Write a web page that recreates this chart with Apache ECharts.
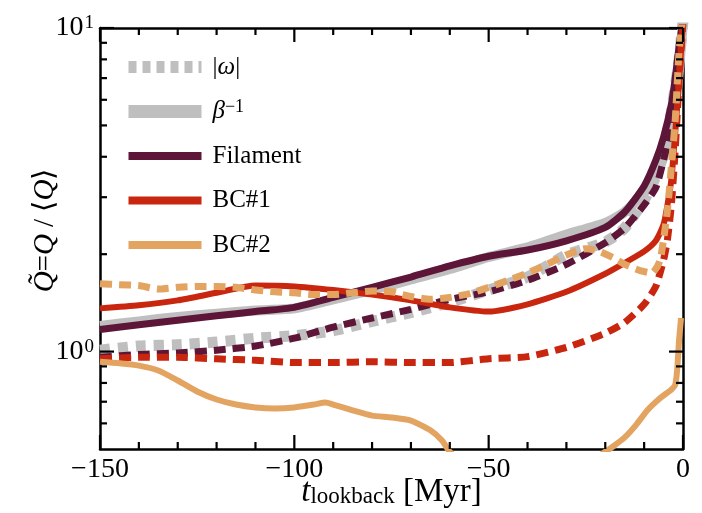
<!DOCTYPE html>
<html>
<head>
<meta charset="utf-8">
<script src="https://cdn.jsdelivr.net/npm/echarts@6/dist/echarts.min.js"></script>
<style>
  html, body { margin: 0; padding: 0; background: #fff; }
  #chart { width: 702px; height: 513px; }
</style>
</head>
<body>
<div id="chart"></div>
<script>
// lookback time (Myr) and Q / <Q>
const tOmega = [-150, -140, -130, -120, -110, -100, -90, -80, -70, -60, -50, -40, -30, -20, -15, -10, -7, -5, -3, -1, 0];
const omegaAll = [1.01, 1.04, 1.05, 1.07, 1.10, 1.12, 1.16, 1.24, 1.32, 1.42, 1.55, 1.70, 1.99, 2.18, 2.41, 2.94, 3.47, 4.2, 5.5, 8.0, 10.5];

const tBeta = [-150, -140, -130, -120, -110, -100, -90, -80, -70, -60, -50, -40, -30, -20, -15, -10, -7, -5, -3, -2, -1, 0];
const betaAll = [1.20, 1.24, 1.28, 1.31, 1.34, 1.36, 1.45, 1.55, 1.67, 1.80, 1.96, 2.10, 2.30, 2.50, 2.70, 3.10, 3.50, 4.0, 4.9, 5.8, 7.5, 10.5];

const tFil = [-150, -140, -130, -120, -110, -100, -90, -80, -70, -60, -50, -40, -30, -20, -15, -10, -7, -5, -3, -2, -1, 0];
const filament = [1.17, 1.21, 1.25, 1.29, 1.33, 1.37, 1.47, 1.58, 1.70, 1.84, 1.97, 2.06, 2.20, 2.42, 2.70, 3.25, 3.90, 4.6, 5.8, 7.0, 8.8, 10.5];
const tFilDash = [-150, -140, -130, -120, -110, -100, -90, -80, -70, -60, -50, -40, -30, -20, -15, -10, -7, -5, -3, -1, 0];
const filamentOmega = [0.96, 0.98, 0.99, 1.01, 1.04, 1.10, 1.19, 1.27, 1.35, 1.45, 1.53, 1.66, 1.86, 2.17, 2.41, 2.84, 3.21, 3.91, 5.0, 8.0, 10.5];

const tBc1 = [-150, -140, -130, -120, -110, -100, -90, -80, -70, -60, -50, -40, -30, -20, -15, -10, -7, -5, -4, -3, -2, -1, 0];
const bc1 = [1.36, 1.39, 1.44, 1.52, 1.60, 1.59, 1.55, 1.50, 1.44, 1.37, 1.33, 1.40, 1.53, 1.74, 1.88, 2.04, 2.20, 2.47, 2.84, 3.40, 4.74, 6.9, 10.5];
const bc1Omega = [0.95, 0.96, 0.96, 0.95, 0.94, 0.925, 0.925, 0.93, 0.925, 0.925, 0.95, 0.965, 1.03, 1.14, 1.23, 1.40, 1.59, 1.92, 2.22, 2.84, 4.2, 6.9, 10.5];

const tBc2 = [-150, -145, -140, -135, -130, -125, -120, -115, -110, -105, -100, -95, -92, -90, -85, -80, -75, -70, -65, -62, -60, -55, -45, -35, -25, -20, -18, -15, -12, -9, -6, -4, -3, -2, -1.5, -1, -0.5];
const bc2 = [0.93, 0.92, 0.905, 0.874, 0.814, 0.753, 0.711, 0.686, 0.672, 0.667, 0.672, 0.686, 0.696, 0.686, 0.658, 0.634, 0.626, 0.612, 0.571, 0.531, 0.49, 0.44, 0.40, 0.40, 0.45, 0.49, 0.509, 0.543, 0.595, 0.662, 0.716, 0.747, 0.763, 0.79, 0.88, 1.09, 1.27];
const tBc2Dash = [-150, -145, -140, -135, -130, -125, -120, -115, -110, -105, -100, -95, -90, -85, -80, -75, -70, -65, -60, -55, -50, -45, -40, -35, -30, -25, -22, -18, -15, -11, -8, -6, -5, -4, -3, -2, -1, 0];
const bc2Omega = [1.62, 1.61, 1.60, 1.56, 1.58, 1.59, 1.59, 1.58, 1.55, 1.53, 1.52, 1.50, 1.50, 1.52, 1.54, 1.53, 1.48, 1.45, 1.47, 1.51, 1.58, 1.66, 1.75, 1.86, 1.99, 2.08, 2.05, 1.95, 1.86, 1.78, 1.75, 1.90, 2.22, 2.74, 3.72, 5.2, 8.5, 11];

// tick positions
const xMajor = [-150, -100, -50, 0];
const xMinor = [-140, -130, -120, -110, -90, -80, -70, -60, -40, -30, -20, -10];
const yMajor = [1, 10];
const yMinor = [0.6, 0.7, 0.8, 0.9, 2, 3, 4, 5, 6, 7, 8, 9];

const GRAY = '#bfbfbf';
const MAROON = '#5e1638';
const RED = '#c9260f';
const ORANGE = '#e3a462';
const FONT = 'Liberation Serif';

const pairs = (xs, ys) => xs.map((x, i) => [x, ys[i]]);

const chart = echarts.init(document.getElementById('chart'), null, { renderer: 'canvas' });

const line = (name, xs, ys, color, width, dash) => ({
  name,
  type: 'line',
  data: pairs(xs, ys),
  symbol: 'none',
  smooth: 0.2,
  clip: true,
  silent: true,
  z: 2,
  lineStyle: { color, width, type: dash || 'solid', cap: 'butt', join: 'round' }
});

const axisLine = { show: true, onZero: false, lineStyle: { color: '#000', width: 2.5 } };
const yAxisBase = {
  type: 'log',
  logBase: 10,
  min: 0.5,
  max: 10,
  splitLine: { show: false },
  axisTick: { show: false },
  minorTick: { show: false },
  axisLine
};

const legendNames = {
  omega: '|{it|ω}|',
  betaInv: '{it|β}{sup|−1}',
  Filament: 'Filament',
  'BC#1': 'BC#1',
  'BC#2': 'BC#2'
};

const option = {
  animation: false,
  backgroundColor: '#fff',
  grid: { left: 100, right: 19, top: 28, bottom: 64, containLabel: false, outerBoundsMode: 'none' },
  legend: {
    orient: 'vertical',
    left: 122,
    top: 54,
    padding: 0,
    itemWidth: 73,
    itemHeight: 14,
    itemGap: 18.5,
    selectedMode: false,
    formatter: n => legendNames[n],
    textStyle: {
      fontFamily: FONT, fontSize: 25, color: '#000', lineHeight: 26, padding: [0, 0, 0, 6],
      rich: {
        it: { fontFamily: FONT, fontStyle: 'italic', fontSize: 25, lineHeight: 26 },
        sup: { fontFamily: FONT, fontSize: 18, lineHeight: 14, verticalAlign: 'top' }
      }
    },
    data: [
      { name: 'omega', itemStyle: { opacity: 0 }, lineStyle: { color: GRAY, width: 12, type: [8, 6], cap: 'butt' } },
      { name: 'betaInv', itemStyle: { opacity: 0 }, lineStyle: { color: GRAY, width: 13, type: 'solid', cap: 'butt' } },
      { name: 'Filament', itemStyle: { opacity: 0 }, lineStyle: { color: MAROON, width: 8, type: 'solid', cap: 'butt' } },
      { name: 'BC#1', itemStyle: { opacity: 0 }, lineStyle: { color: RED, width: 8, type: 'solid', cap: 'butt' } },
      { name: 'BC#2', itemStyle: { opacity: 0 }, lineStyle: { color: ORANGE, width: 8, type: 'solid', cap: 'butt' } }
    ]
  },
  xAxis: [
    {
      type: 'value', min: -150, max: 0, interval: 50, position: 'bottom',
      name: '{it|t}{sub|lookback}{n| [Myr]}',
      nameLocation: 'middle', nameGap: 27, nameMoveOverlap: false,
      nameTextStyle: {
        fontFamily: FONT, fontSize: 33, color: '#000', lineHeight: 32,
        rich: {
          it: { fontFamily: FONT, fontStyle: 'italic', fontSize: 33, lineHeight: 32 },
          sub: { fontFamily: FONT, fontSize: 23, lineHeight: 17, verticalAlign: 'bottom' },
          n: { fontFamily: FONT, fontSize: 33, lineHeight: 32 }
        }
      },
      splitLine: { show: false },
      axisLine,
      axisTick: { show: false },
      minorTick: { show: false },
      axisLabel: {
        show: true, margin: 7, fontFamily: FONT, fontSize: 28, color: '#000',
        customValues: xMajor,
        formatter: v => String(v).replace('-', '\u2212')
      }
    },
    {
      type: 'value', min: -150, max: 0, interval: 50, position: 'top',
      splitLine: { show: false },
      axisLine,
      axisTick: { show: false },
      minorTick: { show: false },
      axisLabel: { show: false }
    }
  ],
  yAxis: [
    Object.assign({}, yAxisBase, {
      position: 'left',
      name: '{it|Q\u0303}{n|=}{it|Q}{n| / \u27e8}{it|Q}{n|\u27e9}',
      nameLocation: 'middle', nameRotate: 90, nameGap: 40, nameMoveOverlap: false,
      nameTextStyle: {
        fontFamily: FONT, fontSize: 28, color: '#000', padding: [0, 0, 0, 16],
        rich: {
          it: { fontFamily: FONT, fontStyle: 'italic', fontSize: 29 },
          n: { fontFamily: FONT, fontSize: 29 }
        }
      },
      axisLabel: {
        show: true, margin: 6, fontFamily: FONT, fontSize: 28, color: '#000',
        customValues: yMajor,
        formatter: v => '10{sup|' + Math.round(Math.log10(v)) + '}',
        rich: { sup: { fontFamily: FONT, fontSize: 19, lineHeight: 16, verticalAlign: 'top', padding: [0, 0, 0, 1] } }
      }
    }),
    Object.assign({}, yAxisBase, {
      position: 'right',
      axisLabel: { show: false }
    })
  ],
  series: [
    line('omega', tOmega, omegaAll, GRAY, 11, [10, 8]),
    line('betaInv', tBeta, betaAll, GRAY, 10),
    line('Filament', tFil, filament, MAROON, 7),
    line('Filament |ω|', tFilDash, filamentOmega, MAROON, 7, [12, 7]),
    line('BC#1', tBc1, bc1, RED, 6),
    line('BC#1 |ω|', tBc1, bc1Omega, RED, 7, [12, 7]),
    line('BC#2', tBc2, bc2, ORANGE, 6),
    line('BC#2 |ω|', tBc2Dash, bc2Omega, ORANGE, 7, [12, 7])
  ]
};

chart.setOption(option);

// inward ticks on all four sides, placed via the axes' own scales
(function drawTicks() {
  const px = v => chart.convertToPixel({ xAxisIndex: 0 }, v);
  const py = v => chart.convertToPixel({ yAxisIndex: 0 }, v);
  const gLeft = px(-150), gRight = px(0), gBottom = py(0.5), gTop = py(10);
  const tickStyle = { stroke: '#000', lineWidth: 2.2 };
  const seg = (x1, y1, x2, y2) => ({ type: 'line', z: 100, silent: true, shape: { x1, y1, x2, y2 }, style: tickStyle });
  const ticks = [];
  const addX = (vals, len) => vals.forEach(v => {
    const x = px(v);
    ticks.push(seg(x, gBottom, x, gBottom - len), seg(x, gTop, x, gTop + len));
  });
  const addY = (vals, len) => vals.forEach(v => {
    const y = py(v);
    ticks.push(seg(gLeft, y, gLeft + len, y), seg(gRight, y, gRight - len, y));
  });
  addX(xMajor, 14);
  addX(xMinor, 7);
  addY(yMajor, 14);
  addY(yMinor, 7);
  chart.setOption({ graphic: { elements: ticks } });
})();

window.addEventListener('resize', () => chart.resize());
</script>
</body>
</html>
